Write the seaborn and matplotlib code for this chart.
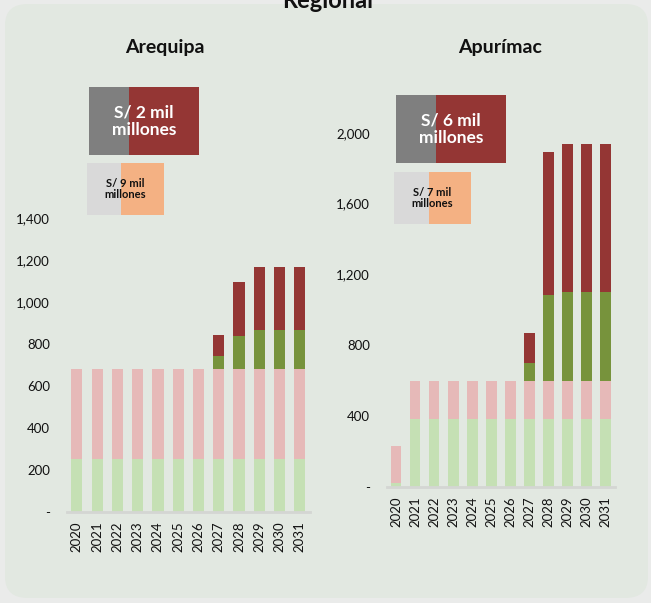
import numpy as np
import pandas as pd
import matplotlib
matplotlib.use("Agg")
import matplotlib.pyplot as plt
import seaborn as sns
from matplotlib.patches import FancyBboxPatch, Rectangle

sns.set_style("white")
plt.rcParams['font.family'] = ['Lato', 'DejaVu Sans']

# data (millones de soles)
years = [str(y) for y in range(2020, 2032)]

areq_base = [250] * 12
areq_pink = [430] * 12
areq_dgreen = [0, 0, 0, 0, 0, 0, 0, 63, 156, 185, 185, 185]
areq_red = [0, 0, 0, 0, 0, 0, 0, 97, 257, 301, 301, 301]

apur_base = [19] + [383] * 11
apur_pink = [211] + [213] * 11
apur_dgreen = [0, 0, 0, 0, 0, 0, 0, 105, 487, 504, 504, 504]
apur_red = [0, 0, 0, 0, 0, 0, 0, 169, 806, 836, 836, 836]

regions = ["Arequipa", "Apurímac"]
box_big = ["S/ 2 mil\nmillones", "S/ 6 mil\nmillones"]
box_small = ["S/ 9 mil\nmillones", "S/ 7 mil\nmillones"]

layer_colors = ["#C5E0B4", "#E6B9B8", "#77933C", "#943634"]

W, H = 651, 603
fig = plt.figure(figsize=(W / 100, H / 100), dpi=100)
fig.patch.set_facecolor("#EAEBEA")


def fx(px):
    return px / W


def fy(py):
    return 1 - py / H


# rounded panel
panel = FancyBboxPatch((fx(5), fy(598)), fx(643), (598 - 4) / H,
                       boxstyle="round,pad=0,rounding_size=0.035",
                       transform=fig.transFigure, facecolor="#E2E8E1",
                       edgecolor="none", zorder=0)
fig.add_artist(panel)

# main title sits partly above the top edge, as in the source slide
fig.text(fx(328), fy(8), "Regional", ha="center", va="baseline",
         fontsize=17, fontweight="bold", color="#111111")


def stacked(ax, layers, ymax, step):
    cum = np.cumsum(np.array(layers), axis=0)
    for i in range(len(layers) - 1, -1, -1):
        sns.barplot(x=years, y=cum[i], color=layer_colors[i], saturation=1,
                    width=0.55, linewidth=0, ax=ax, zorder=2)
    ax.set_xlim(-0.5, 11.5)
    ax.set_ylim(0, ymax)
    ticks = np.arange(0, ymax + 1, step)
    ax.set_yticks(ticks)
    ax.set_yticklabels(["-"] + [f"{t:,}" for t in ticks[1:]])
    ax.set_facecolor("none")
    for s in ["top", "right", "left"]:
        ax.spines[s].set_visible(False)
    ax.spines["bottom"].set_color("#D4D6D3")
    ax.spines["bottom"].set_linewidth(2)
    ax.tick_params(axis="x", labelrotation=90, length=0, pad=7, labelsize=9.5,
                   labelcolor="#111111")
    ax.tick_params(axis="y", length=0, pad=12, labelsize=9.5, labelcolor="#111111")
    ax.set_xlabel("")
    ax.set_ylabel("")


ax1 = fig.add_axes([fx(66.7), fy(511.7), fx(243.3), (511.7 - 217.7) / H])
stacked(ax1, [areq_base, areq_pink, areq_dgreen, areq_red], 1400, 200)

ax2 = fig.add_axes([fx(386.7), fy(486.7), fx(228.3), (486.7 - 132.7) / H])
stacked(ax2, [apur_base, apur_pink, apur_dgreen, apur_red], 2000, 400)

fig.text(fx(165), fy(47), regions[0], ha="center", va="center",
         fontsize=14, fontweight="bold", color="#111111")
fig.text(fx(500), fy(47), regions[1], ha="center", va="center",
         fontsize=14, fontweight="bold", color="#111111")


def box(x0, x1, x2, y0, y1, c1, c2, text, tcolor, fsize):
    fig.add_artist(Rectangle((fx(x0), fy(y1)), fx(x1 - x0), (y1 - y0) / H,
                             transform=fig.transFigure, facecolor=c1,
                             edgecolor="none", zorder=3))
    fig.add_artist(Rectangle((fx(x1), fy(y1)), fx(x2 - x1), (y1 - y0) / H,
                             transform=fig.transFigure, facecolor=c2,
                             edgecolor="none", zorder=3))
    return fig.text(fx((x0 + x2) / 2), fy((y0 + y1) / 2), text,
                    ha="center", va="center", fontsize=fsize, fontweight="bold",
                    color=tcolor, linespacing=1.1, zorder=4)


box(89, 129, 199, 87, 155, "#7F7F7F", "#943634", box_big[0], "white", 12.5)
box(87, 121, 164, 163, 215, "#D9D9D9", "#F4B183", box_small[0], "#111111", 8)
box(396, 436, 506, 95, 163, "#7F7F7F", "#943634", box_big[1], "white", 12.5)
box(394, 429, 471, 172, 224, "#D9D9D9", "#F4B183", box_small[1], "#111111", 8)

fig.savefig("out.png", dpi=100, facecolor=fig.get_facecolor())
